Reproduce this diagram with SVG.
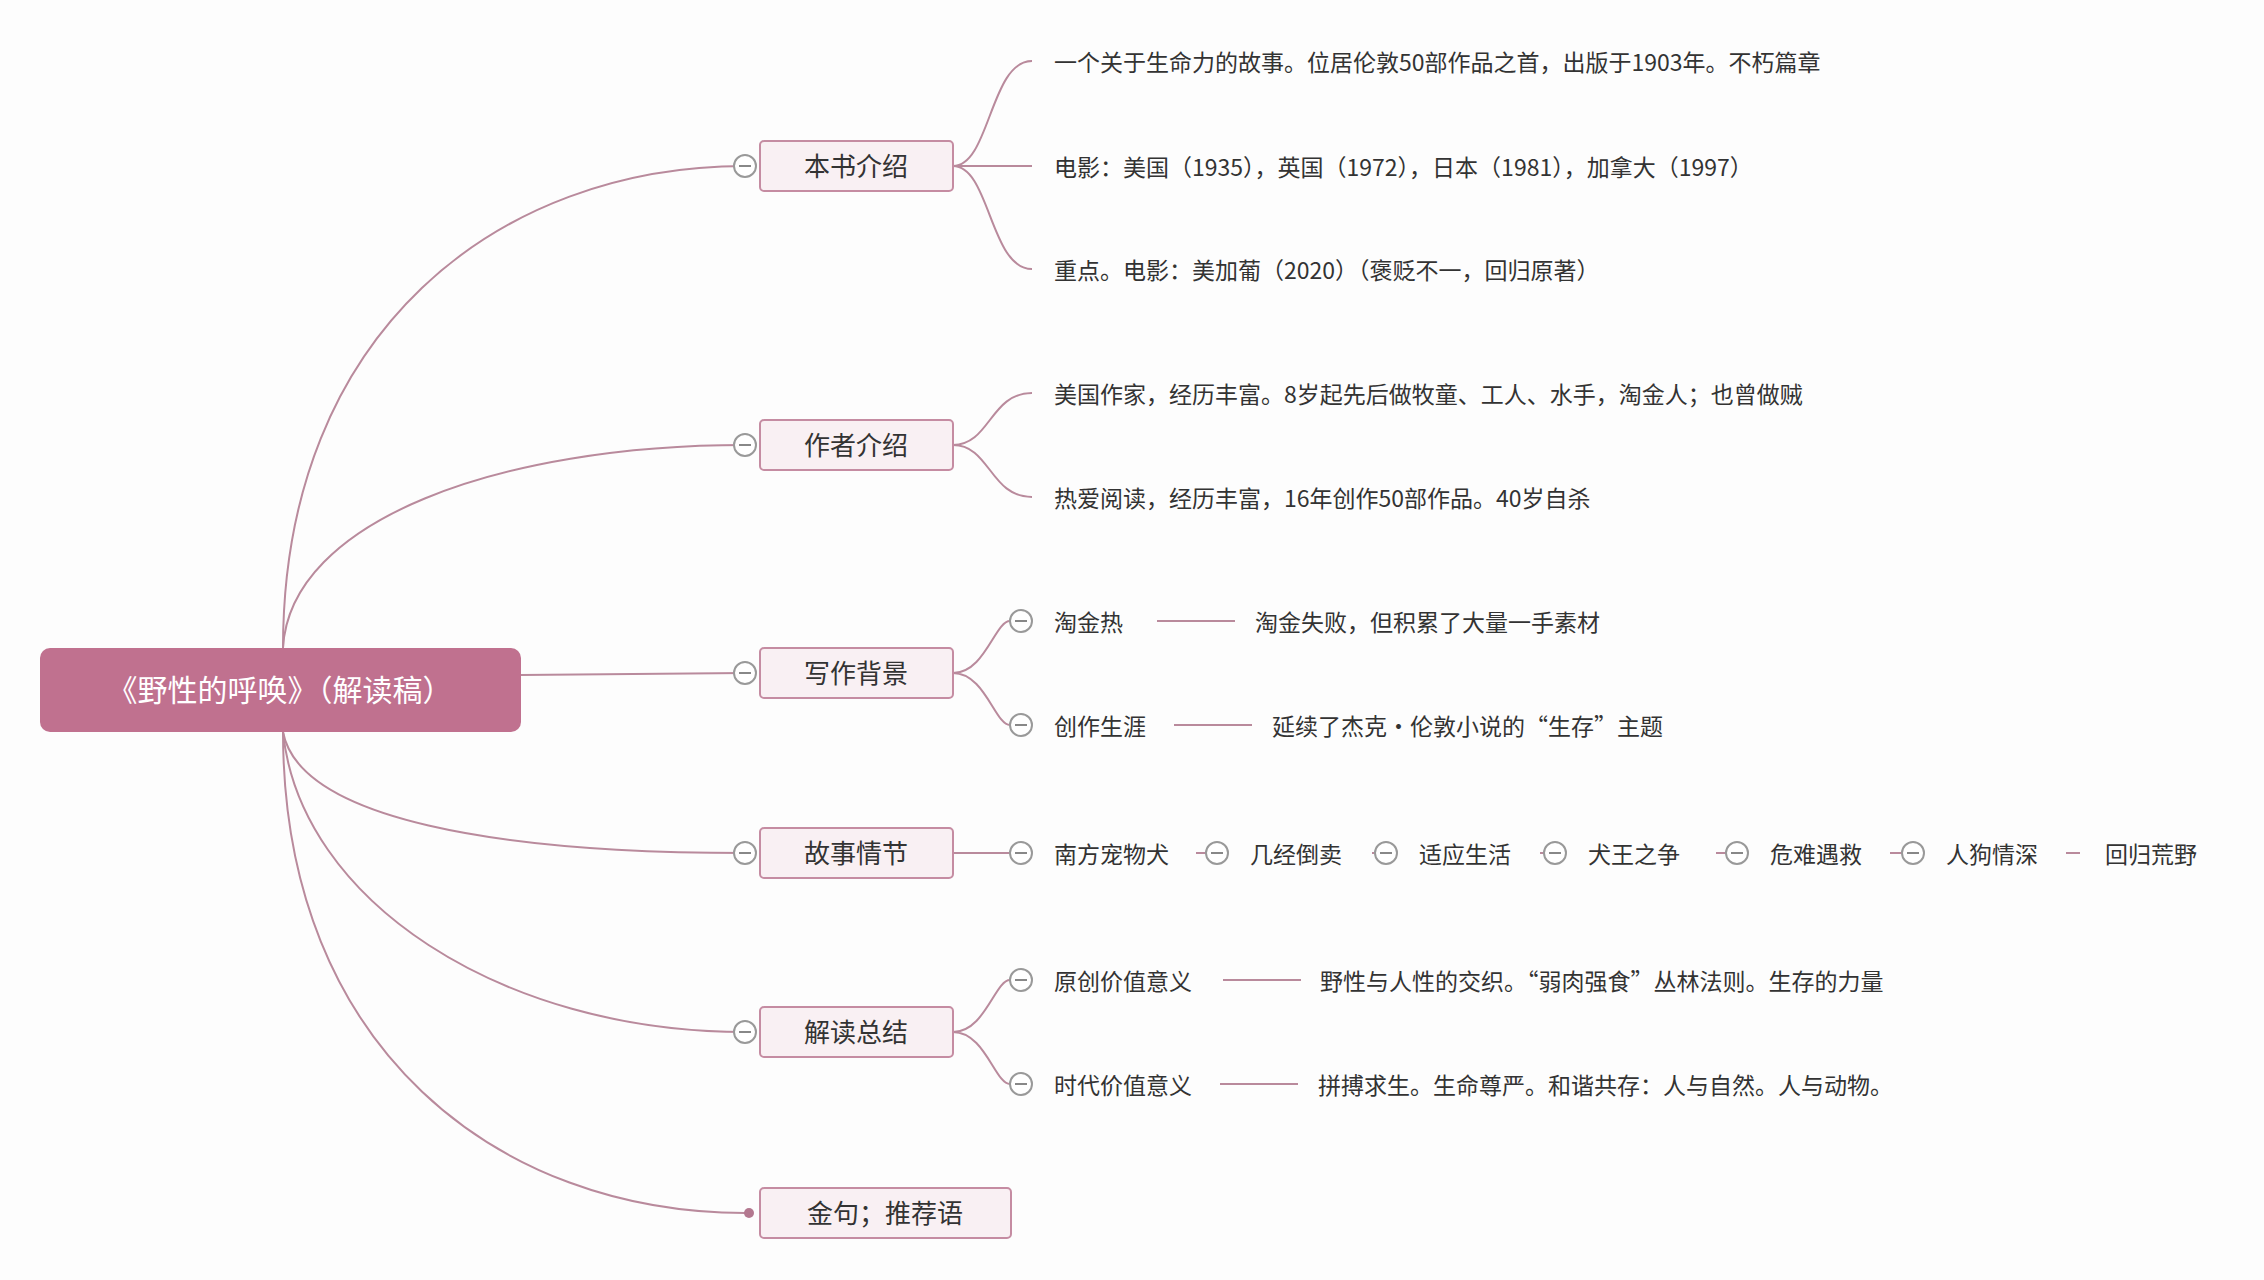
<svg xmlns="http://www.w3.org/2000/svg" width="2264" height="1280" viewBox="0 0 2264 1280">
<style>
.ln{fill:none;stroke:#b98a9c;stroke-width:2}
.bx{fill:#f9f0f3;stroke:#c58ca2;stroke-width:2}
.c{fill:#fff;stroke:#999;stroke-width:2}
.cm{stroke:#888;stroke-width:2}
.t{font-family:"Noto Sans CJK SC","Liberation Sans",sans-serif;fill:#333;font-size:23px;dominant-baseline:central}
.b{font-size:26px;text-anchor:middle}
</style>
<defs>
<g id="col"><circle r="11" class="c"/><line x1="-6" y1="0" x2="6" y2="0" class="cm"/></g>
</defs>
<rect width="2264" height="1280" fill="#fdfdfd"/>
<g id="connectors">
<path class="ln" d="M283,648 C283,330 500,166 745,166"/>
<path class="ln" d="M283,648 C290,520 500,445 745,445"/>
<path class="ln" d="M521,675 L745,673"/>
<path class="ln" d="M283,732 C300,820 500,853 745,853"/>
<path class="ln" d="M283,732 C300,900 500,1032 745,1032"/>
<path class="ln" d="M283,732 C283,1050 500,1213 745,1213"/>
<path class="ln" d="M953,166 C990,166 990,61 1032,61 M953,166 L1032,166 M953,166 C990,166 990,269 1032,269"/>
<path class="ln" d="M953,445 C990,445 990,393 1032,393 M953,445 C990,445 990,497 1032,497"/>
<path class="ln" d="M953,673 C985,673 995,621 1010,621 M953,673 C985,673 995,725 1010,725"/>
<path class="ln" d="M953,853 L1010,853"/>
<path class="ln" d="M953,1032 C985,1032 995,980 1010,980 M953,1032 C985,1032 995,1084 1010,1084"/>
<path class="ln" d="M1157,621 H1235 M1174,725 H1252 M1223,980 H1301 M1220,1084 H1298"/>
<path class="ln" d="M1196,853 H1206 M1372,853 H1375 M1540,853 H1544 M1716,853 H1726 M1890,853 H1902 M2066,853 H2080"/>
</g>
<g id="root"><rect x="40" y="648" width="481" height="84" rx="10" fill="#c0718f"/><text class="t" x="280" y="688" font-size="30" fill="#fff" text-anchor="middle" style="fill:#fff;font-size:30px">《野性的呼唤》（解读稿）</text></g>
<g id="b1"><use href="#col" x="745" y="166"/><rect class="bx" x="760" y="141" width="193" height="50" rx="4"/><text class="t b" x="856" y="164">本书介绍</text></g>
<g id="b2"><use href="#col" x="745" y="445"/><rect class="bx" x="760" y="420" width="193" height="50" rx="4"/><text class="t b" x="856" y="443">作者介绍</text></g>
<g id="b3"><use href="#col" x="745" y="673"/><rect class="bx" x="760" y="648" width="193" height="50" rx="4"/><text class="t b" x="856" y="671">写作背景</text></g>
<g id="b4"><use href="#col" x="745" y="853"/><rect class="bx" x="760" y="828" width="193" height="50" rx="4"/><text class="t b" x="856" y="851">故事情节</text></g>
<g id="b5"><use href="#col" x="745" y="1032"/><rect class="bx" x="760" y="1007" width="193" height="50" rx="4"/><text class="t b" x="856" y="1030">解读总结</text></g>
<g id="b6"><circle cx="749" cy="1213" r="5" fill="#b3788f"/><rect class="bx" x="760" y="1188" width="251" height="50" rx="4"/><text class="t b" x="885" y="1211">金句；推荐语</text></g>
<g id="leaves">
<text class="t" x="1054" y="61">一个关于生命力的故事。位居伦敦50部作品之首，出版于1903年。不朽篇章</text>
<text class="t" x="1054" y="166">电影：美国（1935），英国（1972），日本（1981），加拿大（1997）</text>
<text class="t" x="1054" y="269">重点。电影：美加葡（2020）（褒贬不一，回归原著）</text>
<text class="t" x="1054" y="393">美国作家，经历丰富。8岁起先后做牧童、工人、水手，淘金人；也曾做贼</text>
<text class="t" x="1054" y="497">热爱阅读，经历丰富，16年创作50部作品。40岁自杀</text>
<use href="#col" x="1021" y="621"/><text class="t" x="1054" y="621">淘金热</text><text class="t" x="1255" y="621">淘金失败，但积累了大量一手素材</text>
<use href="#col" x="1021" y="725"/><text class="t" x="1054" y="725">创作生涯</text><text class="t" x="1272" y="725">延续了杰克·伦敦小说的“生存”主题</text>
<use href="#col" x="1021" y="853"/><text class="t" x="1054" y="853">南方宠物犬</text>
<use href="#col" x="1217" y="853"/><text class="t" x="1250" y="853">几经倒卖</text>
<use href="#col" x="1386" y="853"/><text class="t" x="1419" y="853">适应生活</text>
<use href="#col" x="1555" y="853"/><text class="t" x="1588" y="853">犬王之争</text>
<use href="#col" x="1737" y="853"/><text class="t" x="1770" y="853">危难遇救</text>
<use href="#col" x="1913" y="853"/><text class="t" x="1946" y="853">人狗情深</text>
<text class="t" x="2105" y="853">回归荒野</text>
<use href="#col" x="1021" y="980"/><text class="t" x="1054" y="980">原创价值意义</text><text class="t" x="1320" y="980">野性与人性的交织。“弱肉强食”丛林法则。生存的力量</text>
<use href="#col" x="1021" y="1084"/><text class="t" x="1054" y="1084">时代价值意义</text><text class="t" x="1318" y="1084">拼搏求生。生命尊严。和谐共存：人与自然。人与动物。</text>
</g>
</svg>
